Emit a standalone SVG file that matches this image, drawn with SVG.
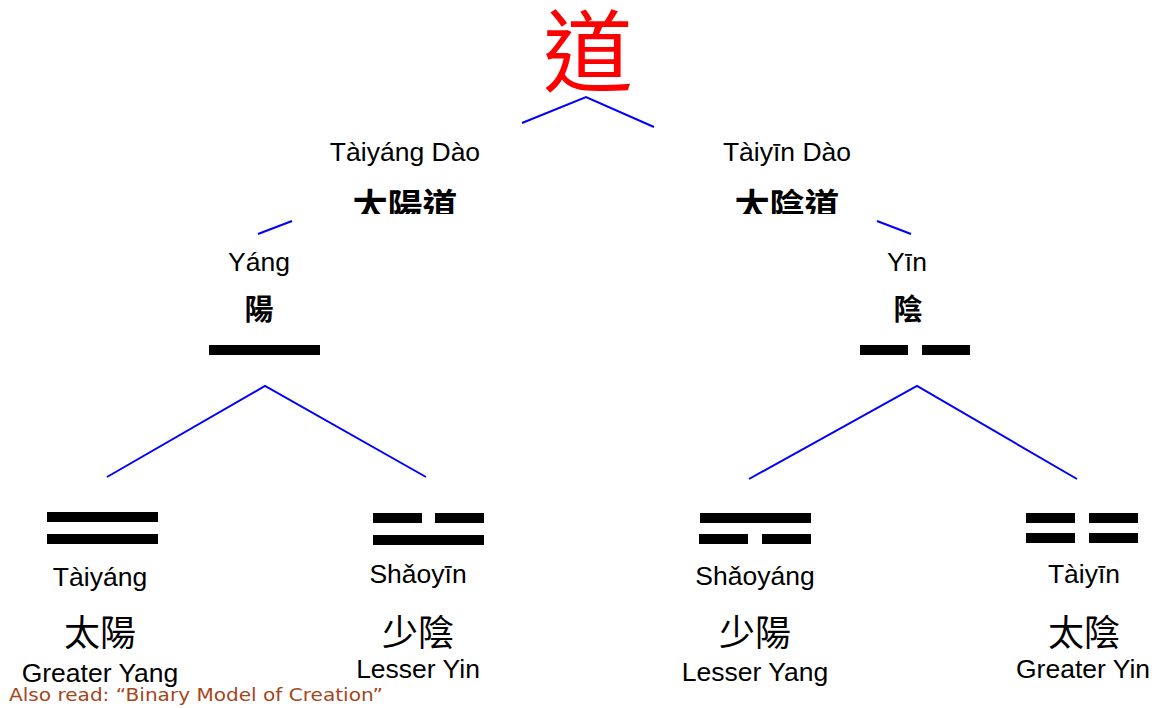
<svg xmlns="http://www.w3.org/2000/svg" width="1158" height="708" viewBox="0 0 1158 708">
<style>
.py{font-family:"Liberation Sans",Arial,sans-serif;font-size:26.5px;fill:#000;text-anchor:middle}
.cj{font-family:"Noto Sans CJK TC","Noto Sans CJK SC",sans-serif;font-size:36px;fill:#000;text-anchor:middle}
.cjb{font-family:"Noto Sans CJK TC","Noto Sans CJK SC",sans-serif;font-weight:bold;fill:#000;text-anchor:middle}
.ln{fill:none;stroke:#0000ff;stroke-width:2}
.bar{fill:#000}
</style>
<defs>
<clipPath id="clipDao"><rect x="0" y="0" width="1158" height="214"/></clipPath>
</defs>
<rect width="1158" height="708" fill="#fff"/>
<g id="connectors">
<polyline class="ln" points="522,123 586,97 654,127"/>
<line class="ln" x1="258" y1="234" x2="292" y2="221"/>
<line class="ln" x1="877" y1="221" x2="911" y2="234"/>
<polyline class="ln" points="107,477 265,386 426,477"/>
<polyline class="ln" points="749,479 917,386 1077,479"/>
</g>
<g id="dao">
<text x="588" y="85" font-family="'Noto Sans CJK TC','Noto Sans CJK SC',sans-serif" font-size="90" fill="#ff0000" text-anchor="middle">道</text>
</g>
<g id="taiyang-dao">
<text class="py" x="405" y="161">Tàiyáng Dào</text>
<text class="cjb" x="405" y="219" font-size="35" clip-path="url(#clipDao)">太陽道</text>
</g>
<g id="taiyin-dao">
<text class="py" x="787" y="161">Tàiyīn Dào</text>
<text class="cjb" x="787" y="219" font-size="35" clip-path="url(#clipDao)">太陰道</text>
</g>
<g id="yang">
<text class="py" x="259" y="271">Yáng</text>
<text class="cjb" x="259" y="320" font-size="29">陽</text>
<rect class="bar" x="209" y="345" width="111" height="10"/>
</g>
<g id="yin">
<text class="py" x="907" y="271">Yīn</text>
<text class="cjb" x="908" y="320" font-size="29">陰</text>
<rect class="bar" x="860" y="345" width="48" height="10"/>
<rect class="bar" x="922" y="345" width="48" height="10"/>
</g>
<g id="taiyang">
<rect class="bar" x="47" y="512" width="111" height="10"/>
<rect class="bar" x="47" y="534" width="111" height="10"/>
<text class="py" x="100" y="586">Tàiyáng</text>
<text class="cj" x="100" y="646">太陽</text>
<text class="py" x="100" y="682">Greater Yang</text>
</g>
<g id="shaoyin">
<rect class="bar" x="373" y="513" width="49" height="10"/>
<rect class="bar" x="435" y="513" width="49" height="10"/>
<rect class="bar" x="373" y="535" width="111" height="10"/>
<text class="py" x="418" y="583">Shǎoyīn</text>
<text class="cj" x="418" y="646">少陰</text>
<text class="py" x="418" y="678">Lesser Yin</text>
</g>
<g id="shaoyang">
<rect class="bar" x="700" y="513" width="111" height="10"/>
<rect class="bar" x="699" y="534" width="49" height="10"/>
<rect class="bar" x="762" y="534" width="49" height="10"/>
<text class="py" x="755" y="585">Shǎoyáng</text>
<text class="cj" x="755" y="646">少陽</text>
<text class="py" x="755" y="681">Lesser Yang</text>
</g>
<g id="taiyin">
<rect class="bar" x="1026" y="513" width="49" height="10"/>
<rect class="bar" x="1089" y="513" width="49" height="10"/>
<rect class="bar" x="1026" y="533" width="49" height="10"/>
<rect class="bar" x="1089" y="533" width="49" height="10"/>
<text class="py" x="1084" y="583">Tàiyīn</text>
<text class="cj" x="1084" y="646">太陰</text>
<text class="py" x="1083" y="678">Greater Yin</text>
</g>
<g id="note">
<text x="9" y="701" font-family="'DejaVu Sans',Verdana,sans-serif" font-size="18" fill="#a5451b" textLength="374" lengthAdjust="spacingAndGlyphs">Also read: “Binary Model of Creation”</text>
</g>
</svg>
